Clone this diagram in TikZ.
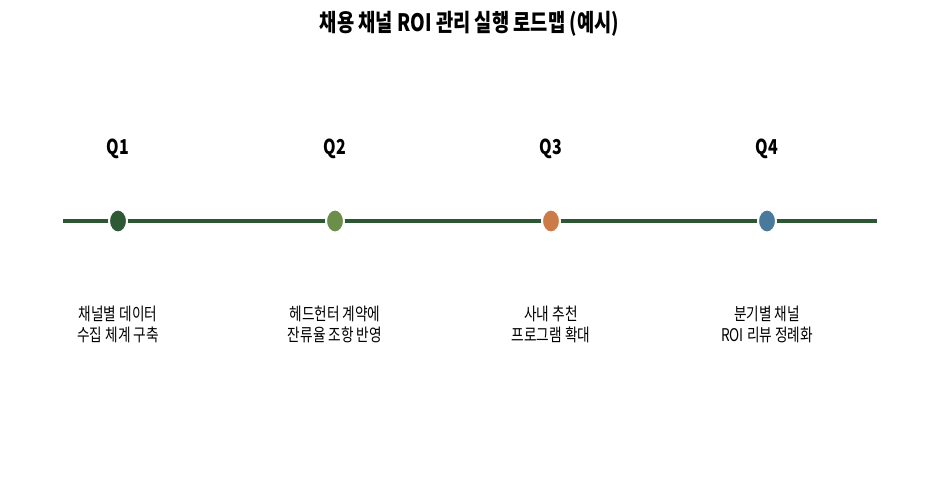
\documentclass[tikz,border=0pt]{standalone}
\usepackage{fontspec}
\setmainfont{Noto Sans CJK KR}[FakeStretch=0.78]
\usetikzlibrary{shapes.geometric}
\definecolor{lineGreen}{HTML}{2D5733}
\definecolor{qOne}{HTML}{2E5935}
\definecolor{qTwo}{HTML}{6B8F4B}
\definecolor{qThree}{HTML}{CC7A48}
\definecolor{qFour}{HTML}{4A7A9B}

\begin{document}
\begin{tikzpicture}
[x=1pt, y=1pt, every node/.style={inner sep=0pt},
 marker/.style={ellipse, minimum width=18pt, minimum height=23pt, draw=white, line width=2pt},
 qlabel/.style={font=\fontsize{20.5}{24}\selectfont\bfseries},
 task/.style={align=center, font=\fontsize{17.5}{21}\selectfont}]
\useasboundingbox (0,0) rectangle (939,-479);
\node (title) at (469.5, -24) {\fontsize{24}{28}\selectfont\bfseries 채용 채널 ROI 관리 실행 로드맵 (예시)};
\coordinate (start) at (63, -221);
\coordinate (end) at (877, -221);
\draw [line width=4pt, color=lineGreen] (start) -- (end);
\node (1) [marker, fill=qOne] at (118, -221) {};
\node (2) [marker, fill=qTwo] at (335, -221) {};
\node (3) [marker, fill=qThree] at (551, -221) {};
\node (4) [marker, fill=qFour] at (767, -221) {};
\node (q1) [qlabel] at (118, -149) {Q1};
\node (q2) [qlabel] at (335, -149) {Q2};
\node (q3) [qlabel] at (551, -149) {Q3};
\node (q4) [qlabel] at (767, -149) {Q4};
\node (t1) [task] at (118, -324.5) {채널별 데이터\\수집 체계 구축};
\node (t2) [task] at (335, -324.5) {헤드헌터 계약에\\잔류율 조항 반영};
\node (t3) [task] at (551, -324.5) {사내 추천\\프로그램 확대};
\node (t4) [task] at (767, -324.5) {분기별 채널\\ROI 리뷰 정례화};
\end{tikzpicture}
\end{document}
